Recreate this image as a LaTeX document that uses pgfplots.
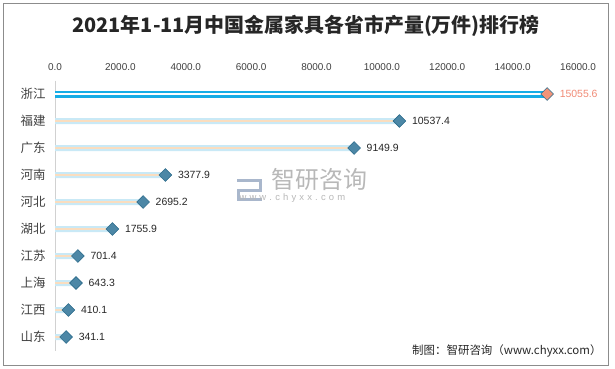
\documentclass[border=0pt]{standalone}
\usepackage{pgfplots}
\pgfplotsset{compat=1.18}
\usepackage{pgfplotstable}
\usepackage{fontspec}
\setmainfont{Liberation Sans}
\newfontfamily\cjk{Noto Sans CJK SC}
\definecolor{lb}{HTML}{C9E9F6}
\definecolor{beige}{HTML}{FADDBF}
\definecolor{topblue}{HTML}{16ADE6}
\definecolor{dfill}{HTML}{4C87A6}
\definecolor{dedge}{HTML}{2A6A8A}
\definecolor{salm}{HTML}{F29479}
\definecolor{salmtxt}{HTML}{F08A75}
\definecolor{txt}{HTML}{404040}
\definecolor{wm}{HTML}{B8B8B8}
\definecolor{logo}{HTML}{A9B7CC}
\pgfplotstableread{
y x label
1 10537.4 10537.4
2 9149.9 9149.9
3 3377.9 3377.9
4 2695.2 2695.2
5 1755.9 1755.9
6 701.4 701.4
7 643.3 643.3
8 410.1 410.1
9 341.1 341.1
}\rest
\pgfplotstableread{
y x label
0 15055.6 15055.6
}\first
\begin{document}
\begin{tikzpicture}
\useasboundingbox (0,0) rectangle (615bp,369bp);
\draw[color=black!45, line width=0.8bp] (3bp,4bp) rectangle (608bp,366bp);
\node[font=\cjk\bfseries\fontsize{20}{24}\selectfont, text=black!85] at (306bp,343bp) {2021年1-11月中国金属家具各省市产量(万件)排行榜};
% watermark
\fill[logo] (237bp,190bp) rectangle (262bp,187bp);
\fill[logo] (259bp,190bp) rectangle (262bp,178bp);
\fill[logo] (237bp,180bp) rectangle (262bp,177bp);
\fill[logo] (237bp,180bp) rectangle (240bp,168bp);
\fill[logo] (237bp,171bp) rectangle (262bp,168bp);
\node[font=\cjk\fontsize{24}{26}\selectfont, text=wm, anchor=west] at (268bp,190bp) {智研咨询};
\node[font=\fontsize{9.5}{11}\selectfont, text=wm, anchor=west] at (236bp,171bp) {w\,\,w\,\,w\,\,.\,\,c\,\,h\,\,y\,\,x\,\,x\,\,.\,\,c\,\,o\,\,m};
\node[font=\cjk\fontsize{11.5}{13}\selectfont, text=black!85, anchor=east] at (605bp,18bp) {制图：智研咨询（www.chyxx.com）};
\begin{axis}[
  at={(55bp,288.5bp)}, anchor=north west,
  scale only axis, width=523bp, height=270bp,
  xmin=0, xmax=16000, ymin=-0.5, ymax=9.5, y dir=reverse,
  axis x line*=top, axis y line*=left,
  x axis line style={draw=none},
  y axis line style={draw=black!18, line width=1bp, -},
  major tick length=0pt,
  scaled x ticks=false,
  xtick={0,2000,...,16000},
  xticklabel={\pgfmathprintnumber[fixed,fixed zerofill,precision=1,1000 sep={},assume math mode=true]{\tick}},
  ytick={0,...,9},
  yticklabels={浙江,福建,广东,河南,河北,湖北,江苏,上海,江西,山东},
  yticklabel style={font=\cjk\fontsize{12.5}{14}\selectfont, text=txt, xshift=-6bp},
  xticklabel style={font=\fontsize{10}{11}\selectfont, text=txt, yshift=6.5bp},
  clip=false,
]
\addplot[xbar, bar width=6bp, bar shift=0pt, fill=lb, draw=none] table[x=x,y=y]{\rest};
\addplot[xbar, bar width=1.6bp, bar shift=0pt, fill=beige, draw=none] table[x=x,y=y]{\rest};
\addplot[xbar, bar width=7bp, bar shift=0pt, fill=topblue, draw=none] table[x=x,y=y]{\first};
\addplot[xbar, bar width=1.2bp, bar shift=0pt, fill=white, draw=none] table[x=x,y=y]{\first};
\addplot[only marks, mark=square*, mark size=4.5bp,
  mark options={rotate=45, fill=dfill, draw=dedge, line width=0.6bp},
  nodes near coords, point meta=explicit symbolic,
  nodes near coords style={anchor=west, xshift=9bp, font=\fontsize{10.5}{12}\selectfont, text=black!85}]
  table[x=x,y=y,meta=label]{\rest};
\addplot[only marks, mark=square*, mark size=4.5bp,
  mark options={rotate=45, fill=salm, draw=dedge, line width=0.6bp},
  nodes near coords, point meta=explicit symbolic,
  nodes near coords style={anchor=west, xshift=9bp, font=\fontsize{10.5}{12}\selectfont, text=salmtxt}]
  table[x=x,y=y,meta=label]{\first};
\end{axis}
\end{tikzpicture}
\end{document}
